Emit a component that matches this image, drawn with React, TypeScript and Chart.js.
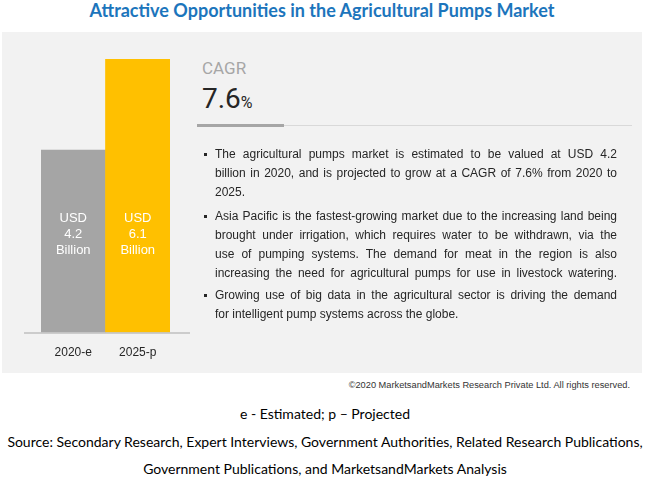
import React, { useEffect, useRef } from "react";
import { Chart, registerables } from "chart.js";

Chart.register(...registerables);

const categories = ["2020-e", "2025-p"];
const values = [4.2, 6.1];
const barColors = ["#A5A5A5", "#FFC000"];
const barLabels = [
  ["USD", "4.2", "Billion"],
  ["USD", "6.1", "Billion"],
];
const cagrValue = "7.6";

const title = "Attractive Opportunities in the Agricultural Pumps Market";
const bullets: { lines: string[]; lastJustify: boolean }[] = [
  {
    lines: [
      "The agricultural pumps market is estimated to be valued at USD 4.2",
      "billion in 2020, and is projected to grow at a CAGR of 7.6% from 2020 to",
      "2025.",
    ],
    lastJustify: false,
  },
  {
    lines: [
      "Asia Pacific is the fastest-growing market due to the increasing land being",
      "brought under irrigation, which requires water to be withdrawn, via the",
      "use of pumping systems. The demand for meat in the region is also",
      "increasing the need for agricultural pumps for use in livestock watering.",
    ],
    lastJustify: true,
  },
  {
    lines: [
      "Growing use of big data in the agricultural sector is driving the demand",
      "for intelligent pump systems across the globe.",
    ],
    lastJustify: false,
  },
];
const copyright = "©2020 MarketsandMarkets Research Private Ltd. All rights reserved.";
const footerLines = [
  "e - Estimated; p – Projected",
  "Source: Secondary Research, Expert Interviews, Government Authorities, Related Research Publications,",
  "Government Publications, and MarketsandMarkets Analysis",
];

const textFont = "'Liberation Sans', Arial, sans-serif";

const BarChart: React.FC = () => {
  const ref = useRef<HTMLCanvasElement | null>(null);
  useEffect(() => {
    if (!ref.current) return;
    const extras = {
      id: "extras",
      afterDatasetsDraw(chart: any) {
        const ctx = chart.ctx;
        const area = chart.chartArea;
        ctx.save();
        ctx.strokeStyle = "#BFBFBF";
        ctx.lineWidth = 1.5;
        ctx.beginPath();
        ctx.moveTo(area.left - 17, area.bottom + 0.5);
        ctx.lineTo(area.right + 20, area.bottom + 0.5);
        ctx.stroke();
        const meta = chart.getDatasetMeta(0);
        const midY = area.bottom - 98;
        ctx.fillStyle = "#FFFFFF";
        ctx.font = "13px " + textFont;
        ctx.textAlign = "center";
        ctx.textBaseline = "middle";
        meta.data.forEach((bar: any, i: number) => {
          const lines = barLabels[i];
          lines.forEach((t, j) => {
            ctx.fillText(t, bar.x, midY + (j - 1) * 16);
          });
        });
        ctx.restore();
      },
    };
    const chart = new Chart(ref.current, {
      type: "bar",
      data: {
        labels: categories,
        datasets: [
          {
            data: values,
            backgroundColor: barColors,
            borderWidth: 0,
            barPercentage: 1,
            categoryPercentage: 1,
          },
        ],
      },
      options: {
        animation: false,
        responsive: false,
        maintainAspectRatio: false,
        layout: { padding: { left: 41, right: 30, top: 26, bottom: 0 } },
        plugins: { legend: { display: false }, tooltip: { enabled: false } },
        scales: {
          x: {
            grid: { display: false, drawTicks: false },
            border: { display: false },
            ticks: {
              color: "#262626",
              font: { family: textFont, size: 12 },
              padding: 13,
            },
          },
          y: {
            display: false,
            min: 0.4,
            max: 6.1,
          },
        },
      },
      plugins: [extras],
    });
    return () => chart.destroy();
  }, []);
  return <canvas ref={ref} width={200} height={340} style={{ position: "absolute", left: 0, top: 33, width: 200, height: 340 }} />;
};

export default function App() {
  return (
    <div style={{ position: "absolute", left: 0, top: 0, width: 650, height: 487, background: "#FFFFFF", overflow: "hidden" }}>
      <div
        style={{
          position: "absolute",
          left: 0,
          top: 0,
          width: 650,
          textAlign: "center",
          fontFamily: "Lato, sans-serif",
          fontWeight: 700,
          fontSize: 18,
          color: "#1C75BC",
          lineHeight: "20px",
          whiteSpace: "nowrap",
        }}
      >
        <span style={{ position: "relative", left: -3 }}>{title}</span>
      </div>
      <div style={{ position: "absolute", left: 2, top: 32, width: 640, height: 341, background: "#F2F2F2" }} />
      <BarChart />
      <div style={{ position: "absolute", left: 202, top: 58, fontFamily: "Roboto, sans-serif", fontSize: 17, color: "#A6A6A6", lineHeight: "20px" }}>CAGR</div>
      <div style={{ position: "absolute", left: 202, top: 82, fontFamily: "Roboto, sans-serif", color: "#262626", lineHeight: "34px", whiteSpace: "nowrap" }}>
        <span style={{ fontSize: 28 }}>{cagrValue}</span>
        <span style={{ fontSize: 16 }}>%</span>
      </div>
      <div style={{ position: "absolute", left: 197, top: 125, width: 435, height: 1, background: "#D9D9D9" }} />
      <div style={{ position: "absolute", left: 197, top: 124, width: 87, height: 3, background: "#A6A6A6" }} />
      {(() => {
        const starts = [145, 207, 286];
        return bullets.map((b, bi) => (
          <div key={bi} style={{ position: "absolute", left: 203, top: starts[bi], width: 420 }}>
            <div style={{ position: "absolute", left: 1, top: 8, width: 3, height: 3, background: "#262626" }} />
            {b.lines.map((ln, li) => {
              const justify = li < b.lines.length - 1 || b.lastJustify;
              return (
                <div
                  key={li}
                  style={{
                    marginLeft: 12,
                    width: 402,
                    fontFamily: textFont,
                    fontSize: 12,
                    lineHeight: "19px",
                    color: "#262626",
                    textAlign: justify ? "justify" : "left",
                    textAlignLast: justify ? "justify" : "left",
                    whiteSpace: "nowrap",
                  } as React.CSSProperties}
                >
                  {ln}
                </div>
              );
            })}
          </div>
        ));
      })()}
      <div
        style={{
          position: "absolute",
          right: 20,
          top: 379,
          fontFamily: textFont,
          fontSize: 9.25,
          color: "#333333",
          lineHeight: "12px",
          whiteSpace: "nowrap",
        }}
      >
        {copyright}
      </div>
      {footerLines.map((t, i) => (
        <div
          key={i}
          style={{
            position: "absolute",
            left: 0,
            width: 650,
            top: [404, 432, 459][i],
            textAlign: "center",
            fontFamily: "Lato, sans-serif",
            fontSize: 14,
            color: "#000000",
            lineHeight: "20px",
            whiteSpace: "nowrap",
          }}
        >
          {t}
        </div>
      ))}
    </div>
  );
}
